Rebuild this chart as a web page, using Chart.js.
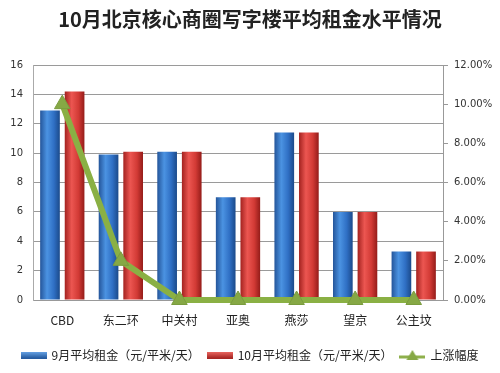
<!DOCTYPE html>
<html>
<head>
<meta charset="utf-8">
<script src="https://cdn.jsdelivr.net/npm/chart.js@4/dist/chart.umd.min.js"></script>
<style>
  html, body { margin: 0; padding: 0; background: #fff; }
  #wrap { width: 500px; height: 373px; }
</style>
</head>
<body>
<div id="wrap"><canvas id="myChart" width="500" height="373"></canvas></div>
<script>
let districts = ['CBD', '东二环', '中关村', '亚奥', '燕莎', '望京', '公主坟'];
let septRent = [12.9, 9.9, 10.1, 7.0, 11.4, 6.0, 3.3];
let octRent = [14.2, 10.1, 10.1, 7.0, 11.4, 6.0, 3.3];
let riseRate = [0.10, 0.02, 0, 0, 0, 0, 0];

let fontCJK = '"Noto Sans CJK SC", "Noto Sans", sans-serif';

// little canvases used as legend symbols
let makeBox = (c1, c2) => {
    let cv = document.createElement('canvas');
    cv.width = 26; cv.height = 7;
    let g = cv.getContext('2d');
    let grad = g.createLinearGradient(0, 0, 0, 7);
    grad.addColorStop(0, c1);
    grad.addColorStop(1, c2);
    g.fillStyle = grad;
    g.fillRect(0, 0, 26, 7);
    return cv;
};
let makeLineMark = () => {
    let cv = document.createElement('canvas');
    cv.width = 26; cv.height = 12;
    let g = cv.getContext('2d');
    g.strokeStyle = '#8fb04c';
    g.lineWidth = 3;
    g.beginPath(); g.moveTo(0, 8); g.lineTo(26, 8); g.stroke();
    g.fillStyle = '#86a845';
    g.beginPath(); g.moveTo(13, 1); g.lineTo(19, 11); g.lineTo(7, 11); g.closePath(); g.fill();
    return cv;
};

// horizontal shading on each bar, like the cylinder look of the original
let shades = [
    ['#24559a', '#4b93e2', '#2f6fc4', '#1b4a8a'],
    ['#a3221f', '#ec5651', '#d23a35', '#941c19']
];
let barShade = {
    id: 'barShade',
    beforeDatasetsDraw(chart) {
        let ctx = chart.ctx;
        [0, 1].forEach(di => {
            chart.getDatasetMeta(di).data.forEach(el => {
                let x0 = el.x - el.width / 2;
                let grad = ctx.createLinearGradient(x0, 0, x0 + el.width, 0);
                grad.addColorStop(0, shades[di][0]);
                grad.addColorStop(0.35, shades[di][1]);
                grad.addColorStop(0.7, shades[di][2]);
                grad.addColorStop(1, shades[di][3]);
                el.options = Object.assign({}, el.options, { backgroundColor: grad });
            });
        });
    }
};

let ctx = document.getElementById('myChart').getContext('2d');
let chart = new Chart(ctx, {
    type: 'bar',
    data: {
        labels: districts,
        datasets: [{
            label: '9月平均租金（元/平米/天）',
            data: septRent,
            backgroundColor: () => '#3a7bd0',
            yAxisID: 'y',
            order: 2,
            legendMark: makeBox('#6aa6e8', '#22579c')
        }, {
            label: '10月平均租金（元/平米/天）',
            data: octRent,
            backgroundColor: () => '#d8403b',
            yAxisID: 'y',
            order: 2,
            legendMark: makeBox('#ee6a64', '#a3221f')
        }, {
            type: 'line',
            label: '上涨幅度',
            data: riseRate,
            yAxisID: 'y1',
            borderColor: '#8ab044',
            backgroundColor: '#86a845',
            borderWidth: 6,
            pointStyle: 'triangle',
            pointRadius: 9,
            pointBorderColor: '#7a9c3e',
            pointBorderWidth: 1,
            tension: 0,
            clip: false,
            order: 1,
            legendMark: makeLineMark()
        }]
    },
    options: {
        responsive: false,
        animation: false,
        datasets: {
            bar: { categoryPercentage: 0.84, barPercentage: 0.8 }
        },
        layout: { padding: { left: 0, right: 0, top: 0, bottom: 2 } },
        plugins: {
            title: {
                display: true,
                text: '10月北京核心商圈写字楼平均租金水平情况',
                color: '#222',
                font: { family: fontCJK, size: 20, weight: 'bold' },
                padding: { top: 7, bottom: 34 }
            },
            legend: {
                position: 'bottom',
                labels: {
                    usePointStyle: true,
                    pointStyleWidth: 24,
                    boxHeight: 12,
                    padding: 8,
                    color: '#222',
                    font: { family: fontCJK, size: 12 },
                    generateLabels: (ch) => ch.data.datasets.map((ds, i) => ({
                        text: ds.label,
                        pointStyle: ds.legendMark,
                        fillStyle: '#000',
                        strokeStyle: '#000',
                        lineWidth: 0,
                        hidden: false,
                        datasetIndex: i,
                        fontColor: '#222'
                    }))
                }
            },
            tooltip: { enabled: false }
        },
        scales: {
            x: {
                grid: { display: false, drawTicks: false },
                border: { display: true, color: '#999' },
                ticks: {
                    color: '#222',
                    padding: 13,
                    font: { family: fontCJK, size: 12 }
                },
                afterFit: (s) => { s.height = 41; }
            },
            y: {
                position: 'left',
                min: 0,
                max: 16,
                ticks: {
                    stepSize: 2,
                    color: '#333',
                    padding: 10,
                    font: { family: '"DejaVu Sans", sans-serif', size: 10 }
                },
                grid: { color: '#9a9a9a', drawTicks: false },
                border: { display: true, color: '#aaa' },
                afterFit: (s) => { s.width = 33; }
            },
            y1: {
                position: 'right',
                min: 0,
                max: 0.12,
                ticks: {
                    stepSize: 0.02,
                    color: '#333',
                    padding: 6,
                    font: { family: '"DejaVu Sans", sans-serif', size: 10 },
                    callback: (v) => (v * 100).toFixed(2) + '%'
                },
                grid: { drawOnChartArea: false, drawTicks: true, tickLength: 5, color: '#999' },
                border: { display: true, color: '#999' },
                afterFit: (s) => { s.width = 57; }
            }
        }
    },
    plugins: [barShade]
});
</script>
</body>
</html>
